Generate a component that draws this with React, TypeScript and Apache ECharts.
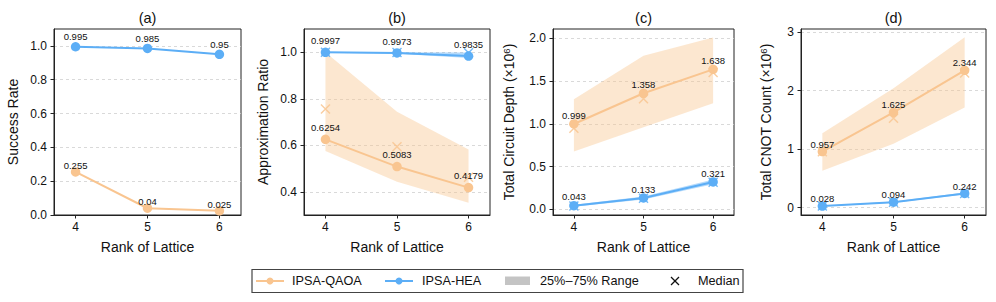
import React, { useEffect, useRef } from "react";
import * as echarts from "echarts";

// ---------- data ----------
const ranks = [4, 5, 6];
const panelTitles = ["(a)", "(b)", "(c)", "(d)"];
const yAxisNames = [
  "Success Rate",
  "Approximation Ratio",
  "Total Circuit Depth (×10{sup|6})",
  "Total CNOT Count (×10{sup|6})",
];
const xAxisName = "Rank of Lattice";
const legendNames = ["IPSA-QAOA", "IPSA-HEA", "25%–75% Range", "Median"];

// (a) success rate
const qaoaSuccess = [0.255, 0.04, 0.025];
const heaSuccess = [0.995, 0.985, 0.95];

// (b) approximation ratio
const qaoaRatio = [0.6254, 0.5083, 0.4179];
const heaRatio = [0.9997, 0.9973, 0.9835];
const qaoaRatioMedian = [0.756, 0.594, 0.462];
const heaRatioMedian = [1.0, 0.999, 0.998];
const qaoaRatioQ1 = [0.575, 0.443, 0.353];
const qaoaRatioQ3 = [1.0, 0.744, 0.582];
const heaRatioQ1 = [0.998, 0.994, 0.975];
const heaRatioQ3 = [1.0, 1.0, 0.999];

// (c) total circuit depth (x10^6)
const qaoaDepth = [0.999, 1.358, 1.638];
const heaDepth = [0.043, 0.133, 0.321];
const qaoaDepthMedian = [0.95, 1.293, 1.6];
const heaDepthMedian = [0.04, 0.13, 0.318];
const qaoaDepthQ1 = [0.676, 0.96, 1.242];
const qaoaDepthQ3 = [1.289, 1.797, 2.01];
const heaDepthQ1 = [0.03, 0.115, 0.295];
const heaDepthQ3 = [0.055, 0.15, 0.348];

// (d) total CNOT count (x10^6)
const qaoaCnot = [0.957, 1.625, 2.344];
const heaCnot = [0.028, 0.094, 0.242];
const qaoaCnotMedian = [0.955, 1.525, 2.3];
const heaCnotMedian = [0.027, 0.092, 0.24];
const qaoaCnotQ1 = [0.632, 1.09, 1.71];
const qaoaCnotQ3 = [1.27, 2.04, 2.91];
const heaCnotQ1 = [0.02, 0.083, 0.225];
const heaCnotQ3 = [0.035, 0.105, 0.26];

const yTicks = [
  [0, 0.2, 0.4, 0.6, 0.8, 1.0],
  [0.4, 0.6, 0.8, 1.0],
  [0, 0.5, 1.0, 1.5, 2.0],
  [0, 1, 2, 3],
];
const yTickDecimals = [1, 1, 1, 0];

// ---------- style / layout ----------
const ORANGE = "#F9C590";
const BLUE = "#5CAEF6";
const ORANGE_BAND = "rgba(249,197,144,0.42)";
const BLUE_BAND = "rgba(92,174,246,0.45)";
const FONT = "'Liberation Sans', Arial, Helvetica, sans-serif";

const gridBoxes = [
  { left: 54, width: 187 },
  { left: 304, width: 186 },
  { left: 553, width: 181 },
  { left: 801, width: 185 },
];
const GRID_TOP = 29;
const GRID_H = 186;
const yRanges = [
  [0, 1.1],
  [0.3, 1.1],
  [-0.066, 2.11],
  [-0.125, 3.05],
];
const yNameGaps = [33, 33, 36, 27];
const labelOffsets = [
  [6.5, 10],
  [11.6, 11.6],
  [8.8, 8.8],
  [7.5, 7.5],
];

type Panel = {
  qaoa: number[];
  hea: number[];
  qaoaMed?: number[];
  heaMed?: number[];
  qaoaBand?: [number[], number[]];
  heaBand?: [number[], number[]];
};

const panels: Panel[] = [
  { qaoa: qaoaSuccess, hea: heaSuccess },
  {
    qaoa: qaoaRatio,
    hea: heaRatio,
    qaoaMed: qaoaRatioMedian,
    heaMed: heaRatioMedian,
    qaoaBand: [qaoaRatioQ1, qaoaRatioQ3],
    heaBand: [heaRatioQ1, heaRatioQ3],
  },
  {
    qaoa: qaoaDepth,
    hea: heaDepth,
    qaoaMed: qaoaDepthMedian,
    heaMed: heaDepthMedian,
    qaoaBand: [qaoaDepthQ1, qaoaDepthQ3],
    heaBand: [heaDepthQ1, heaDepthQ3],
  },
  {
    qaoa: qaoaCnot,
    hea: heaCnot,
    qaoaMed: qaoaCnotMedian,
    heaMed: heaCnotMedian,
    qaoaBand: [qaoaCnotQ1, qaoaCnotQ3],
    heaBand: [heaCnotQ1, heaCnotQ3],
  },
];

const X_PATH = "path://M0,0L10,10M10,0L0,10";

function bandSeries(idx: number, band: [number[], number[]], fill: string, z: number) {
  const [lo, hi] = band;
  const rows = ranks.map((r, i) => [r, lo[i], hi[i]]);
  return {
    type: "custom",
    xAxisIndex: idx,
    yAxisIndex: idx,
    silent: true,
    z,
    clip: true,
    encode: { x: 0, y: [1, 2] },
    data: rows,
    renderItem: (params: any, api: any) => {
      if (params.dataIndex !== 0) return null;
      const pts: number[][] = [];
      rows.forEach((row) => pts.push(api.coord([row[0], row[1]])));
      for (let i = rows.length - 1; i >= 0; i--) pts.push(api.coord([rows[i][0], rows[i][2]]));
      return {
        type: "polygon",
        shape: { points: pts },
        style: { fill, stroke: "none" },
      };
    },
  };
}

function lineSeries(idx: number, values: number[], color: string, off: number, z: number) {
  return {
    type: "line",
    xAxisIndex: idx,
    yAxisIndex: idx,
    z,
    data: ranks.map((r, i) => [r, values[i]]),
    symbol: "circle",
    symbolSize: 9.5,
    lineStyle: { color, width: 2 },
    itemStyle: { color },
    label: {
      show: true,
      position: "inside",
      offset: [0, -off],
      color: "#111",
      fontSize: 9.5,
      fontFamily: FONT,
      textBorderWidth: 0,
      formatter: (p: any) => String(p.value[1]),
    },
  };
}

function medianSeries(idx: number, values: number[], color: string, z: number) {
  return {
    type: "scatter",
    xAxisIndex: idx,
    yAxisIndex: idx,
    z,
    silent: true,
    data: ranks.map((r, i) => [r, values[i]]),
    symbol: X_PATH,
    symbolSize: 9,
    itemStyle: { color: "rgba(0,0,0,0)", borderColor: color, borderWidth: 1.4, opacity: 0.85 },
  };
}

function buildOption() {
  const grid: any[] = [];
  const xAxis: any[] = [];
  const yAxis: any[] = [];
  const series: any[] = [];
  const graphic: any[] = [];

  panels.forEach((p, i) => {
    const g = gridBoxes[i];
    grid.push({
      left: g.left,
      top: GRID_TOP,
      width: g.width,
      height: GRID_H,
      show: true,
      borderColor: "#222",
      borderWidth: 1,
      backgroundColor: "transparent",
    });
    xAxis.push({
      type: "value",
      gridIndex: i,
      min: 3.7,
      max: 6.3,
      name: xAxisName,
      nameLocation: "middle",
      nameGap: 25,
      nameTextStyle: { fontSize: 14, color: "#111", fontFamily: FONT },
      axisLine: { show: true, onZero: false, lineStyle: { color: "#222", width: 1 } },
      axisTick: { show: true, inside: false, length: 3.5, customValues: ranks, lineStyle: { color: "#222" } },
      axisLabel: { customValues: ranks, fontSize: 12, color: "#111", margin: 6, fontFamily: FONT },
      splitLine: { show: false },
    });
    const dec = yTickDecimals[i];
    yAxis.push({
      type: "value",
      gridIndex: i,
      min: yRanges[i][0],
      max: yRanges[i][1],
      name: yAxisNames[i],
      nameLocation: "middle",
      nameGap: yNameGaps[i],
      nameTextStyle: {
        fontSize: 14,
        color: "#111",
        fontFamily: FONT,
        lineHeight: 16,
        rich: {
          sup: { fontSize: 9.5, verticalAlign: "top", lineHeight: 16, fontFamily: FONT, color: "#111" },
        },
      },
      axisLine: { show: true, onZero: false, lineStyle: { color: "#222", width: 1 } },
      axisTick: { show: true, inside: false, length: 3.5, customValues: yTicks[i], lineStyle: { color: "#222" } },
      axisLabel: {
        customValues: yTicks[i],
        fontSize: 12,
        color: "#111",
        margin: 7,
        fontFamily: FONT,
        formatter: (v: number) => v.toFixed(dec),
      },
      splitLine: { show: true, lineStyle: { color: "#cfcfcf", width: 0.8, type: [3, 3] } },
    });

    if (p.qaoaBand) series.push(bandSeries(i, p.qaoaBand, ORANGE_BAND, 1));
    if (p.heaBand) series.push(bandSeries(i, p.heaBand, BLUE_BAND, 1));
    if (p.qaoaMed) series.push(medianSeries(i, p.qaoaMed, ORANGE, 3));
    if (p.heaMed) series.push(medianSeries(i, p.heaMed, BLUE, 3));
    series.push(lineSeries(i, p.qaoa, ORANGE, labelOffsets[i][0], 4));
    series.push(lineSeries(i, p.hea, BLUE, labelOffsets[i][1], 5));

    graphic.push({
      type: "text",
      x: g.left + g.width / 2,
      y: 17.5,
      style: {
        text: panelTitles[i],
        textAlign: "center",
        textVerticalAlign: "middle",
        fontSize: 14.5,
        fontFamily: FONT,
        fill: "#111",
      },
    });
  });

  // legend
  const ly = 281;
  const textStyle = (text: string, x: number) => ({
    type: "text",
    x,
    y: ly,
    style: { text, textAlign: "left", textVerticalAlign: "middle", fontSize: 12.7, fontFamily: FONT, fill: "#111" },
  });
  graphic.push(
    { type: "rect", shape: { x: 252, y: 269.5, width: 491, height: 23 }, style: { fill: "#fff", stroke: "#444", lineWidth: 1.2 } },
    { type: "line", shape: { x1: 256, y1: ly, x2: 284, y2: ly }, style: { stroke: ORANGE, lineWidth: 2 } },
    { type: "circle", shape: { cx: 270, cy: ly, r: 3.5 }, style: { fill: ORANGE } },
    textStyle(legendNames[0], 292),
    { type: "line", shape: { x1: 385, y1: ly, x2: 413, y2: ly }, style: { stroke: BLUE, lineWidth: 2 } },
    { type: "circle", shape: { cx: 399, cy: ly, r: 3.5 }, style: { fill: BLUE } },
    textStyle(legendNames[1], 422),
    { type: "rect", shape: { x: 505, y: 276.5, width: 25, height: 8.5 }, style: { fill: "#c4c4c4" } },
    textStyle(legendNames[2], 540),
    { type: "line", shape: { x1: 671, y1: ly - 4, x2: 679, y2: ly + 4 }, style: { stroke: "#111", lineWidth: 1.3 } },
    { type: "line", shape: { x1: 671, y1: ly + 4, x2: 679, y2: ly - 4 }, style: { stroke: "#111", lineWidth: 1.3 } },
    textStyle(legendNames[3], 698)
  );

  return {
    animation: false,
    backgroundColor: "#fff",
    textStyle: { fontFamily: FONT },
    grid,
    xAxis,
    yAxis,
    series,
    graphic,
  };
}

export default function App() {
  const ref = useRef<HTMLDivElement>(null);
  useEffect(() => {
    if (!ref.current) return;
    const chart = echarts.init(ref.current, undefined, { renderer: "svg" });
    chart.setOption(buildOption() as any);
    return () => chart.dispose();
  }, []);
  return (
    <div
      ref={ref}
      style={{ position: "absolute", left: 0, top: 0, width: 996, height: 302, background: "#fff" }}
    />
  );
}
